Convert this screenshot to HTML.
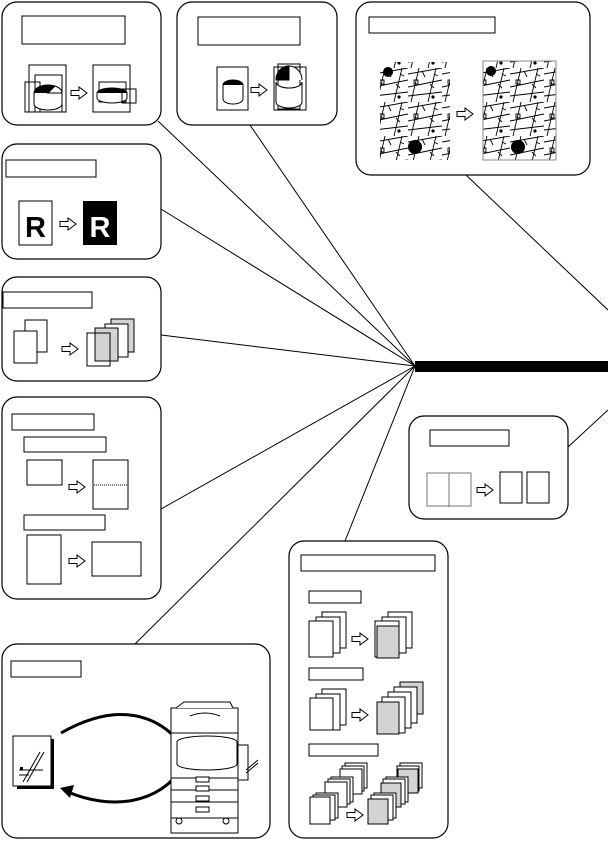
<!DOCTYPE html>
<html><head><meta charset="utf-8"><style>html,body{margin:0;padding:0;background:#fff}svg{display:block}</style></head>
<body>
<svg width="608" height="859" viewBox="0 0 608 859" xmlns="http://www.w3.org/2000/svg">
<defs>
<path id="ar" d="M0,3.5 h8 v-3.5 l8,6 l-8,6 v-3.5 h-8 z" fill="#fff" stroke="#000" stroke-width="1"/>
<pattern id="map" width="34" height="34" patternUnits="userSpaceOnUse">
<rect width="34" height="34" fill="#fff"/>
<path d="M0,6 L34,0 M0,19 L34,12 M3,34 L11,0 M20,34 L28,0 M0,28 L34,24 M6,12 h4 v4 h-4z M22,16 l4,4 M14,3 l3,6 M26,6 l4,2" stroke="#000" stroke-width="0.9" fill="none"/>
<circle cx="25" cy="29" r="1.6" fill="#000"/>
</pattern>
</defs>
<g stroke="#000" stroke-width="1" fill="none">
<line x1="415" y1="366" x2="158" y2="121"/>
<line x1="415" y1="366" x2="250" y2="125"/>
<line x1="415" y1="366" x2="161" y2="209"/>
<line x1="415" y1="366" x2="161" y2="335"/>
<line x1="415" y1="366" x2="161" y2="509"/>
<line x1="415" y1="366" x2="135" y2="644"/>
<line x1="415" y1="366" x2="345" y2="541"/>
<line x1="466" y1="175" x2="608" y2="310"/>
<line x1="568" y1="447" x2="608" y2="410"/>
</g>
<rect x="415" y="361" width="193" height="11" fill="#000"/>
<g stroke="#000" stroke-width="1.2" fill="#fff">
<rect x="2" y="2" width="159" height="123" rx="15"/>
<rect x="177" y="2" width="160" height="123" rx="15"/>
<rect x="356" y="2" width="234" height="173" rx="15"/>
<rect x="2" y="144" width="159" height="115" rx="15"/>
<rect x="2" y="277" width="159" height="104" rx="15"/>
<rect x="2" y="397" width="159" height="202" rx="15"/>
<rect x="2" y="644" width="268" height="194" rx="15"/>
<rect x="289" y="541" width="159" height="297" rx="15"/>
<rect x="409" y="416" width="159" height="103" rx="15"/>
</g>
<g stroke="#000" stroke-width="1" fill="#fff">
<rect x="22" y="16" width="103" height="28"/>
<rect x="198" y="17" width="102" height="28"/>
<rect x="369" y="17" width="126" height="16"/>
<rect x="6" y="160" width="90" height="17"/>
<rect x="3" y="292" width="89" height="16"/>
<rect x="12" y="414" width="82" height="16"/>
<rect x="24" y="437" width="82" height="15"/>
<rect x="24" y="515" width="81" height="15"/>
<rect x="11" y="661" width="70" height="16"/>
<rect x="301" y="555" width="134" height="16"/>
<rect x="309" y="591" width="52" height="12"/>
<rect x="309" y="668" width="54" height="12"/>
<rect x="309" y="744" width="69" height="12"/>
<rect x="430" y="430" width="79" height="16"/>
</g>
<!-- box1 pies -->
<g stroke="#000" stroke-width="1" fill="none">
<rect x="29" y="65" width="37" height="47"/>
<rect x="35" y="75" width="27" height="37"/>
<rect x="25" y="82" width="15" height="30"/>
<ellipse cx="48" cy="93" rx="14" ry="8" fill="#000"/>
<path d="M34,93 v11 a14,6 0 0 0 28,0 v-11" fill="#fff"/>
<path d="M48,93 L62,93 A14,8 0 0 0 55,86 z" fill="#fff"/>
<rect x="93" y="65" width="37" height="47"/>
<rect x="99" y="82" width="27" height="20"/>
<ellipse cx="112" cy="93" rx="15" ry="5" fill="#000"/>
<path d="M97,93 v5 a15,5 0 0 0 30,0 v-5" fill="#fff"/>
<rect x="122" y="89" width="14" height="14"/>
</g>
<use href="#ar" x="71" y="87"/>
<!-- box2 -->
<g stroke="#000" stroke-width="1" fill="none">
<rect x="217" y="67" width="31" height="43"/>
<ellipse cx="233" cy="85" rx="10" ry="5" fill="#000"/>
<path d="M223,85 v14 a10,5 0 0 0 20,0 v-14" fill="#fff"/>
<rect x="274" y="67" width="32" height="43"/>
<rect x="278" y="64" width="22" height="45"/>
<path d="M276,80 a13,14 0 0 1 26,0" fill="#fff"/>
<path d="M289,66 a13,14 0 0 0 -13,14 h13 z" fill="#000"/>
<path d="M276,82 v20 a13,6 0 0 0 26,0 v-20 a13,6 0 0 1 -26,0" fill="#fff"/>
</g>
<use href="#ar" x="251" y="84"/>
<!-- box3 maps -->
<rect x="380" y="62" width="70" height="98" fill="url(#map)"/>
<circle cx="388" cy="72" r="5" fill="#000"/>
<circle cx="415" cy="147" r="7" fill="#000"/>
<rect x="483" y="61" width="73" height="99" fill="url(#map)" stroke="#888" stroke-width="1"/>
<circle cx="491" cy="71" r="5" fill="#000"/>
<circle cx="518" cy="147" r="7" fill="#000"/>
<use href="#ar" x="457" y="108"/>
<!-- box4 R -->
<rect x="19" y="201" width="33" height="44" fill="#fff" stroke="#000"/>
<rect x="83" y="201" width="34" height="44" fill="#000"/>
<text x="35.5" y="237" font-family="Liberation Sans, sans-serif" font-weight="bold" font-size="29" text-anchor="middle" fill="#000">R</text>
<text x="100" y="237" font-family="Liberation Sans, sans-serif" font-weight="bold" font-size="29" text-anchor="middle" fill="#fff">R</text>
<use href="#ar" x="60" y="218"/>
<!-- box5 -->
<g stroke="#000" stroke-width="1" fill="#fff">
<rect x="25" y="320" width="22" height="32"/>
<rect x="14" y="331" width="23" height="32"/>
<rect x="111" y="319" width="23" height="33" fill="#d3d3d3"/>
<rect x="105" y="324" width="23" height="33"/>
<rect x="95" y="328" width="23" height="33" fill="#d3d3d3"/>
<rect x="87" y="333" width="23" height="33" fill="none"/>
</g>
<use href="#ar" x="62" y="343"/>
<!-- box6 -->
<g stroke="#000" stroke-width="1" fill="#fff">
<rect x="27" y="460" width="35" height="25"/>
<rect x="93" y="460" width="35" height="49"/>
<rect x="27" y="535" width="34" height="49"/>
<rect x="92" y="542" width="49" height="34"/>
</g>
<line x1="94" y1="485" x2="127" y2="485" stroke="#000" stroke-dasharray="1,1"/>
<use href="#ar" x="69" y="481"/>
<use href="#ar" x="69" y="555"/>
<!-- box7 -->
<rect x="17" y="739" width="37" height="50" fill="#000"/>
<rect x="13" y="736" width="38" height="50" fill="#fff" stroke="#000"/>
<g stroke="#000" stroke-width="1" fill="none">
<path d="M23,782 L40,752 M27,782 L44,752 M19,770 h24 M19,775 h10"/>
</g>
<rect x="20" y="767" width="3" height="3" fill="#000"/>
<path d="M61,733 C110,705 150,710 178,740" stroke="#000" stroke-width="3" fill="none"/>
<path d="M184,748 L170,742 L180,735 z" fill="#000"/>
<path d="M183,766 C160,805 110,810 68,792" stroke="#000" stroke-width="3" fill="none"/>
<path d="M60,788 L74,785 L70,798 z" fill="#000"/>
<g stroke="#000" stroke-width="1" fill="#fff">
<rect x="171" y="708" width="67" height="25"/>
<path d="M176,708 l8,-6 h46 l3,6"/>
<path d="M190,716 q15,-6 30,0"/>
<rect x="171" y="733" width="67" height="100"/>
<ellipse cx="207" cy="742" rx="30" ry="6"/>
<path d="M177,742 v22 a30,6 0 0 0 60,0 v-22"/>
<rect x="238" y="745" width="10" height="35"/>
<path d="M246,770 l12,-10 M246,773 l12,-10"/>
<rect x="171" y="778" width="67" height="40"/>
<line x1="171" y1="790" x2="238" y2="790"/>
<line x1="171" y1="802" x2="238" y2="802"/>
<rect x="196" y="777" width="13" height="5"/>
<rect x="196" y="786" width="13" height="5"/>
<rect x="196" y="796" width="13" height="5"/>
<rect x="196" y="807" width="13" height="5"/>
<circle cx="179" cy="821" r="3"/>
<circle cx="226" cy="821" r="3"/>
</g>
<!-- box8 -->
<g stroke="#000" stroke-width="1" fill="#fff">
<rect x="322" y="612" width="24" height="36"/>
<rect x="316" y="617" width="24" height="36"/>
<rect x="309" y="621" width="24" height="36"/>
<rect x="388" y="612" width="24" height="36"/>
<rect x="382" y="617" width="24" height="36"/>
<rect x="375" y="621" width="24" height="36"/>
<rect x="377" y="626" width="22" height="32" fill="#d3d3d3"/>
<rect x="322" y="689" width="24" height="36"/>
<rect x="316" y="694" width="24" height="36"/>
<rect x="310" y="698" width="23" height="32"/>
<rect x="400" y="682" width="23" height="32" fill="#d3d3d3"/>
<rect x="394" y="687" width="23" height="36"/>
<rect x="388" y="692" width="23" height="36"/>
<rect x="382" y="697" width="23" height="36"/>
<rect x="377" y="702" width="22" height="32" fill="#d3d3d3"/>
<rect x="345" y="763" width="22" height="25"/><rect x="342" y="766" width="22" height="25"/><rect x="340" y="769" width="22" height="25"/>
<rect x="331" y="777" width="22" height="25"/><rect x="328" y="779" width="22" height="25"/><rect x="325" y="782" width="22" height="25"/>
<rect x="316" y="793" width="22" height="25"/><rect x="313" y="795" width="22" height="25"/><rect x="310" y="797" width="20" height="27"/>
<rect x="400" y="763" width="22" height="25"/><rect x="397" y="766" width="22" height="25"/><rect x="398" y="769" width="20" height="24" fill="#d3d3d3"/>
<rect x="386" y="777" width="22" height="25"/><rect x="383" y="779" width="22" height="25"/><rect x="381" y="783" width="20" height="24" fill="#d3d3d3"/>
<rect x="374" y="793" width="22" height="25"/><rect x="371" y="795" width="22" height="25"/><rect x="368" y="799" width="20" height="25" fill="#d3d3d3"/>
</g>
<use href="#ar" x="352" y="633"/>
<use href="#ar" x="352" y="709"/>
<use href="#ar" x="347" y="809"/>
<!-- box9 -->
<g stroke="#777" stroke-width="1" fill="#fff">
<rect x="427" y="473" width="44" height="33"/>
<line x1="449" y1="473" x2="449" y2="507"/>
</g>
<g stroke="#000" stroke-width="1" fill="#fff">
<rect x="500" y="472" width="22" height="31"/>
<rect x="527" y="472" width="22" height="31"/>
</g>
<use href="#ar" x="477" y="484"/>
</svg>
</body></html>
